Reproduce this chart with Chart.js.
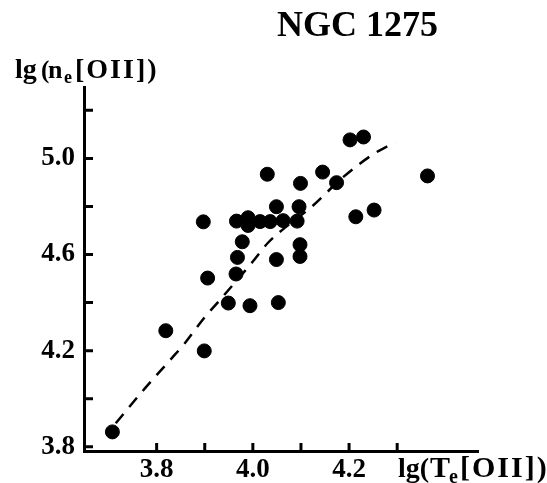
<!DOCTYPE html>
<html>
<head>
<meta charset="utf-8">
<script src="https://cdn.jsdelivr.net/npm/chart.js@4/dist/chart.umd.min.js"></script>
<style>
  html, body { margin: 0; padding: 0; background: #fff; }
  #wrap { position: relative; width: 547px; height: 483px; }
</style>
</head>
<body>
<div id="wrap"><canvas id="chart" width="547" height="483"></canvas></div>
<script>
// measured points, lg Te[OII] vs lg ne[OII]
const teValues = [3.708, 3.819, 3.899, 3.949, 3.994, 4.053, 3.906, 3.965, 3.968, 3.978,
                  3.897, 3.966, 3.990, 3.990, 4.015, 4.036, 4.063, 4.092, 4.049, 4.098,
                  4.098, 4.049, 4.096, 4.099, 4.030, 4.145, 4.174, 4.202, 4.230, 4.214,
                  4.252, 4.363];
const neValues = [3.862, 4.283, 4.199, 4.398, 4.387, 4.400, 4.502, 4.519, 4.588, 4.653,
                  4.736, 4.739, 4.753, 4.721, 4.737, 4.737, 4.741, 4.739, 4.579, 4.641,
                  4.592, 4.799, 4.799, 4.896, 4.934, 4.943, 4.899, 5.077, 5.089, 4.757,
                  4.785, 4.927];

// dashed trend curve
const curveTe = [3.715, 3.776, 3.828, 3.859, 3.897, 3.932, 4.000, 4.032, 4.067, 4.123, 4.187, 4.250, 4.296];
const curveNe = [3.898, 4.044, 4.161, 4.232, 4.332, 4.412, 4.571, 4.650, 4.712, 4.800, 4.921, 5.017, 5.068];

// ticks
const xTickValues = [3.8, 3.9, 4.0, 4.1, 4.2, 4.3];
const xTickLabels = ['3.8', '4.0', '4.2'];
const yTickValues = [3.8, 4.0, 4.2, 4.4, 4.6, 4.8, 5.0, 5.2];
const yTickLabels = ['3.8', '4.2', '4.6', '5.0'];

const SERIF = "'Liberation Serif', 'Times New Roman', serif";

const points = teValues.map((x, i) => ({ x: x, y: neValues[i] }));
const curve = curveTe.map((x, i) => ({ x: x, y: curveNe[i] }));

// ticks drawn inward from the axes
const innerTicks = {
    id: 'innerTicks',
    afterDraw(chart) {
        const ctx = chart.ctx;
        const xs = chart.scales.x, ys = chart.scales.y;
        const area = chart.chartArea;
        ctx.save();
        ctx.strokeStyle = '#000';
        ctx.lineWidth = 3;
        ctx.beginPath();
        xs.ticks.forEach(t => {
            const px = xs.getPixelForValue(t.value);
            ctx.moveTo(px, area.bottom);
            ctx.lineTo(px, area.bottom - 8);
        });
        ys.ticks.forEach(t => {
            const py = ys.getPixelForValue(t.value);
            ctx.moveTo(area.left, py);
            ctx.lineTo(area.left + 9, py);
        });
        ctx.stroke();
        ctx.restore();
    }
};

// title and axis titles with subscripts
function drawRun(ctx, parts, x, y) {
    parts.forEach(p => {
        ctx.font = 'bold ' + p.size + 'px ' + SERIF;
        ctx.letterSpacing = (p.spacing || 0) + 'px';
        const px = p.x !== undefined ? p.x : x;
        ctx.fillText(p.text, px, y + (p.dy || 0));
        x = px + ctx.measureText(p.text).width;
    });
}

const titles = {
    id: 'titles',
    afterDraw(chart) {
        const ctx = chart.ctx;
        ctx.save();
        ctx.fillStyle = '#000';
        ctx.textBaseline = 'alphabetic';
        ctx.textAlign = 'left';
        drawRun(ctx, [{ text: 'NGC 1275', size: 36 }], 277, 36);
        drawRun(ctx, [
            { text: 'lg', size: 28, x: 15 },
            { text: '(', size: 25, x: 41 },
            { text: 'n', size: 26, x: 48, spacing: 1 },
            { text: 'e', size: 18, x: 64, dy: 5 },
            { text: '[OII])', size: 28, x: 75, spacing: 2 }
        ], 15, 78);
        drawRun(ctx, [
            { text: 'lg(', size: 28, x: 398 },
            { text: 'T', size: 30, x: 430 },
            { text: 'e', size: 20, x: 449, dy: 6 },
            { text: '[OII])', size: 30, x: 460, spacing: 2 }
        ], 398, 477);
        ctx.restore();
    }
};

new Chart(document.getElementById('chart'), {
    type: 'scatter',
    data: {
        datasets: [
            {
                label: 'data',
                data: points,
                backgroundColor: '#000',
                borderColor: '#000',
                pointRadius: 7,
                pointHoverRadius: 7,
                order: 1
            },
            {
                label: 'trend',
                data: curve,
                showLine: true,
                borderColor: '#000',
                borderWidth: 2.5,
                borderDash: [12, 9],
                pointRadius: 0,
                cubicInterpolationMode: 'monotone',
                fill: false,
                order: 2
            }
        ]
    },
    options: {
        responsive: false,
        animation: false,
        layout: { padding: { top: 87, right: 69, left: 0, bottom: 0 } },
        plugins: {
            legend: { display: false },
            title: { display: false },
            tooltip: { enabled: false }
        },
        scales: {
            x: {
                type: 'linear',
                min: 3.649,
                max: 4.468,
                afterBuildTicks: s => { s.ticks = xTickValues.map(v => ({ value: v })); },
                afterFit: s => { s.height = 32; },
                grid: { drawOnChartArea: false, drawTicks: false },
                border: { display: true, color: '#000', width: 3 },
                ticks: {
                    padding: 3,
                    color: '#000',
                    font: { family: SERIF, size: 27, weight: 'bold' },
                    maxRotation: 0,
                    autoSkip: false,
                    callback: v => { const s = v.toFixed(1); return xTickLabels.includes(s) ? s : ''; }
                }
            },
            y: {
                type: 'linear',
                min: 3.7825,
                max: 5.297,
                afterBuildTicks: s => { s.ticks = yTickValues.map(v => ({ value: v })); },
                afterFit: s => { s.width = 84; },
                grid: { drawOnChartArea: false, drawTicks: false },
                border: { display: true, color: '#000', width: 3 },
                ticks: {
                    padding: 9,
                    color: '#000',
                    font: { family: SERIF, size: 27, weight: 'bold' },
                    autoSkip: false,
                    callback: v => { const s = v.toFixed(1); return yTickLabels.includes(s) ? s : ''; }
                }
            }
        }
    },
    plugins: [innerTicks, titles]
});
</script>
</body>
</html>
